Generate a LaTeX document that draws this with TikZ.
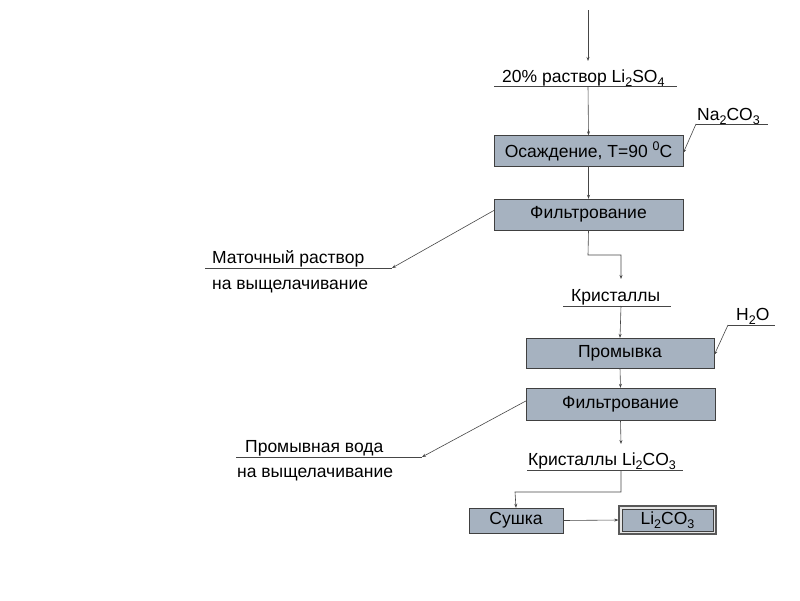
\documentclass[tikz,border=0pt]{standalone}
\usepackage{fontspec}
\setmainfont{Liberation Sans}
\usetikzlibrary{arrows.meta}
\definecolor{boxfill}{RGB}{166,178,192}
\definecolor{wire}{RGB}{70,70,70}
\newcommand\chemsub[1]{\raisebox{-0.45ex}{\fontsize{12.5}{14}\selectfont #1}}
\newcommand\chemsup[1]{\raisebox{0.75ex}{\fontsize{12.5}{14}\selectfont #1}}
\tikzset{stage/.style={draw=black!75, fill=boxfill, inner sep=0pt,
                       minimum width=189pt, minimum height=31pt},
        flow/.style={draw=wire, line width=0.6pt, -{Stealth[length=4pt,width=3pt]}},
        shelf/.style={draw=wire, line width=0.6pt},
        stream/.style={inner sep=0pt, anchor=base west},
        every node/.style={font=\fontsize{17.5}{21}\selectfont},
        }

\begin{document}
\begin{tikzpicture}[x=1pt,y=-1pt]
    \useasboundingbox (0,0) rectangle (800,600);

    % main line
    \coordinate (feed) at (588,10);
    \coordinate (solT) at (588,61);
    \node[stream] (sol) at (502,82) {20\% раствор Li\chemsub{2}SO\chemsub{4}};
    \coordinate (solL) at (494,86);
    \coordinate (solR) at (677,86);
    \coordinate (solU) at (588,86);

    \node[stage] (osazh) at (588.5,151) {Осаждение, T=90 \chemsup{0}C};
    \node[stage] (filtA) at (588.5,214.5) {Фильтрование};

    \node[stream] (na) at (697,120) {Na\chemsub{2}CO\chemsub{3}};
    \coordinate (naL) at (696,124);
    \coordinate (naR) at (768,124);

    \node[stream] (mat) at (212,263) {Маточный раствор};
    \node[stream] (matB) at (212,289) {на выщелачивание};
    \coordinate (matL) at (205,268);
    \coordinate (matR) at (392,268);

    \coordinate (bendA) at (588,255);
    \coordinate (bendB) at (621,255);
    \coordinate (krT) at (621,279);
    \node[stream] (kr) at (571,301) {Кристаллы};
    \coordinate (krL) at (563,306);
    \coordinate (krR) at (671,306);
    \coordinate (krU) at (621,306);

    \node[stage, minimum width=188pt, minimum height=30pt] (prom) at (620,353) {Промывка};
    \node[stage, minimum height=32pt] (filtB) at (620.5,404) {Фильтрование};

    \node[stream] (water) at (736,320) {H\chemsub{2}O};
    \coordinate (waterL) at (728,325);
    \coordinate (waterR) at (775,325);

    \node[stream] (wash) at (245,452) {Промывная вода};
    \node[stream] (washB) at (237,477) {на выщелачивание};
    \coordinate (washL) at (236,457);
    \coordinate (washR) at (422,457);

    \coordinate (kliT) at (621,444);
    \node[stream] (kli) at (528,465) {Кристаллы Li\chemsub{2}CO\chemsub{3}};
    \coordinate (kliL) at (527,470);
    \coordinate (kliR) at (683,470);
    \coordinate (kliU) at (621,470);
    \coordinate (bendC) at (621,492);
    \coordinate (bendD) at (515,492);

    \node[stage, minimum width=94pt, minimum height=25pt] (sush) at (516,520.5) {Сушка};
    \node[draw=gray!70!black, line width=1.2pt, fill=gray!20, minimum width=97pt,
          minimum height=28pt] (prodF) at (667.5,520) {};
    \node[stage, minimum width=91pt, minimum height=22pt] (prod) at (667.5,520) {Li\chemsub{2}CO\chemsub{3}};

    % shelves
    \draw[shelf] (solL) -- (solR);
    \draw[shelf] (naL) -- (naR);
    \draw[shelf] (matL) -- (matR);
    \draw[shelf] (krL) -- (krR);
    \draw[shelf] (waterL) -- (waterR);
    \draw[shelf] (washL) -- (washR);
    \draw[shelf] (kliL) -- (kliR);

    % connectors
    \draw[flow] (feed) -- (solT);
    \draw[flow] (solU) -- (osazh.north);
    \draw[flow] (naL) -- ([yshift=-2pt]osazh.east);
    \draw[flow] (osazh.south) -- (filtA.north);
    \draw[flow] ([yshift=4pt]filtA.west) -- (matR);
    \draw[flow] (filtA.south) -- (bendA) -- (bendB) -- (krT);
    \draw[flow] (krU) -- (prom.north);
    \draw[flow] (waterL) -- ([yshift=-2pt]prom.east);
    \draw[flow] (prom.south) -- (filtB.north);
    \draw[flow] ([yshift=3pt]filtB.west) -- (washR);
    \draw[flow] (filtB.south) -- (kliT);
    \draw[flow] (kliU) -- (bendC) -- (bendD) -- (sush.north);
    \draw[flow] (sush.east) -- (prodF.west);
\end{tikzpicture}
\end{document}
